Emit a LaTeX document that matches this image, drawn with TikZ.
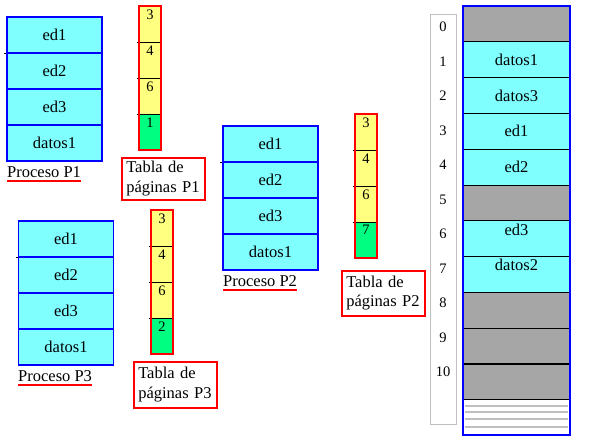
\documentclass[tikz,border=0pt]{standalone}
\usepackage{fontspec}
\setmainfont{Liberation Serif}
\newfontfamily\diagfont{Liberation Serif}
\usetikzlibrary{positioning}

\definecolor{segcyan}{HTML}{80FFFF}
\definecolor{ptyellow}{HTML}{FFFF80}
\definecolor{ptgreen}{HTML}{00FF80}
\definecolor{freegray}{HTML}{A6A6A6}
\definecolor{rulegray}{HTML}{C0C0C0}

\begin{document}
\begin{tikzpicture}[x=1pt, y=-1pt,
        every node/.style={font=\diagfont\fontsize{16.5}{19.5}\selectfont, inner sep=0pt},
        seg/.style={rectangle, draw=blue, line width=1.6pt, fill=segcyan, minimum width=95pt, minimum height=36pt},
        ptcell/.style={rectangle, fill=#1, minimum width=22pt, minimum height=36pt},
        ptnum/.style={anchor=north, inner sep=3.5pt, font=\diagfont\fontsize{14.5}{16}\selectfont},
        ptline/.style={black, line width=0.8pt},
        ptframe/.style={red, line width=1.6pt},
        ptlabel/.style={rectangle, draw=red, line width=1.6pt, anchor=north west, minimum width=83pt, text width=74pt, inner xsep=4.5pt, align=left},
        proclabel/.style={anchor=base west},
        uline/.style={red, line width=1.6pt},
        memframe/.style={rectangle, draw=black, line width=0.8pt, fill=#1, minimum width=107pt, minimum height=35.8pt},
        idxnum/.style={font=\diagfont\fontsize{14.5}{16}\selectfont}
    ]
    \useasboundingbox (0,0) rectangle (590,447);
%
    % Proceso P1
    \foreach \t [count=\i] in {ed1, ed2, ed3, datos1}
        \node[seg] (pa\i) at (54.5, {17+36*(\i-0.5)}) {\t};
    \draw[ptline] ([xshift=-2pt]pa1.south west) -- (pa1.south west);
    \node[proclabel] (pal) at (7,177) {Proceso P1};
    \draw[uline] ([yshift=-4pt]pal.base west) -- ([yshift=-4pt]pal.base east);
%
    % Proceso P2
    \foreach \t [count=\i] in {ed1, ed2, ed3, datos1}
        \node[seg] (pb\i) at (270.5, {126+36*(\i-0.5)}) {\t};
    \draw[ptline] ([xshift=-2pt]pb1.south west) -- (pb1.south west);
    \node[proclabel] (pbl) at (223,286) {Proceso P2};
    \draw[uline] ([yshift=-4pt]pbl.base west) -- ([yshift=-4pt]pbl.base east);
%
    % Proceso P3
    \foreach \t [count=\i] in {ed1, ed2, ed3, datos1}
        \node[seg] (pc\i) at (66, {221+36*(\i-0.5)}) {\t};
    \draw[ptline] ([xshift=-2pt]pc1.south west) -- (pc1.south west);
    \node[proclabel] (pcl) at (18,381) {Proceso P3};
    \draw[uline] ([yshift=-4pt]pcl.base west) -- ([yshift=-4pt]pcl.base east);
%
    % Tabla de paginas P1
    \foreach \n/\c [count=\i] in {3/ptyellow, 4/ptyellow, 6/ptyellow, 1/ptgreen} {
        \node[ptcell=\c] (ta\i) at (150, {6+36*(\i-0.5)}) {};
        \node[ptnum] (tan\i) at (ta\i.north) {\n};
    }
    \foreach \i in {1,2,3}
        \draw[ptline] ([xshift=-2pt]ta\i.south west) -- (ta\i.south east);
    \draw[ptframe] (ta1.north west) rectangle (ta4.south east);
    \node[ptlabel, minimum height=42pt] (tal) at (121,157) {Tabla de\\páginas P1};
%
    % Tabla de paginas P2
    \foreach \n/\c [count=\i] in {3/ptyellow, 4/ptyellow, 6/ptyellow, 7/ptgreen} {
        \node[ptcell=\c] (tb\i) at (366, {114+36*(\i-0.5)}) {};
        \node[ptnum] (tbn\i) at (tb\i.north) {\n};
    }
    \foreach \i in {1,2,3}
        \draw[ptline] ([xshift=-2pt]tb\i.south west) -- (tb\i.south east);
    \draw[ptframe] (tb1.north west) rectangle (tb4.south east);
    \node[ptlabel, minimum height=45pt] (tbl) at (341,270) {Tabla de\\páginas P2};
%
    % Tabla de paginas P3
    \foreach \n/\c [count=\i] in {3/ptyellow, 4/ptyellow, 6/ptyellow, 2/ptgreen} {
        \node[ptcell=\c] (tc\i) at (162, {210+36*(\i-0.5)}) {};
        \node[ptnum] (tcn\i) at (tc\i.north) {\n};
    }
    \foreach \i in {1,2,3}
        \draw[ptline] ([xshift=-2pt]tc\i.south west) -- (tc\i.south east);
    \draw[ptframe] (tc1.north west) rectangle (tc4.south east);
    \node[ptlabel, minimum height=46pt] (tcl) at (133,361) {Tabla de\\páginas P3};
%
    % Memoria fisica
    \node[draw=rulegray, line width=1pt, minimum width=26pt, minimum height=410pt] (idx) at (443,219) {};
    \foreach \i in {0,...,10}
        \node[idxnum] (idx\i) at (443, {27+34.5*\i}) {\i};
    \foreach \c/\t [count=\i from 0] in {freegray/{}, segcyan/datos1, segcyan/datos3, segcyan/ed1, segcyan/ed2, freegray/{}, segcyan/{}, segcyan/{}, freegray/{}, freegray/{}, freegray/{}}
        \node[memframe=\c] (f\i) at (516.5, {6+35.8*(\i+0.5)}) {\t};
    \node[anchor=north, inner sep=3pt] (f6t) at (f6.north) {ed3};
    \node[anchor=north, inner sep=3pt] (f7t) at (f7.north) {datos2};
    \draw[line width=1.6pt] (f10.north west) -- (f10.north east);
    \foreach \y in {406,412,419,427}
        \draw[rulegray, line width=1.4pt] (465,\y) -- (568,\y);
    \coordinate (memend) at (570,435);
    \draw[blue, line width=2pt] (f0.north west) rectangle (memend);
%
\end{tikzpicture}
\end{document}
